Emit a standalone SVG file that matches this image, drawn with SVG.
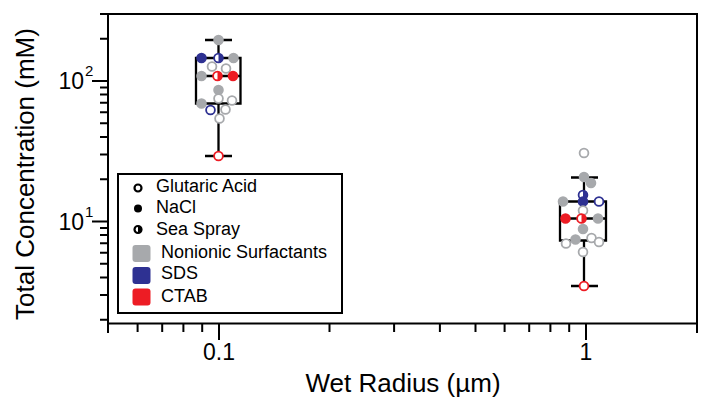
<svg xmlns="http://www.w3.org/2000/svg" xmlns:xlink="http://www.w3.org/1999/xlink" width="708" height="413" viewBox="0 0 708 413">
<style>
text{font-family:"Liberation Sans",Arial,Helvetica,sans-serif;fill:#000}
.ax{stroke:#000;stroke-width:2;fill:none;stroke-linecap:square}
.tk{stroke:#000;stroke-width:2;fill:none}
.bx{stroke:#000;stroke-width:2.3;fill:none}
.lab{font-size:26px}
.tl{font-size:23px}
.sup{font-size:15px}
.lg{font-size:18px}
.m{stroke-width:1.8}
.gf{fill:#a7a9ac;stroke:#a7a9ac}
.go{fill:#fff;stroke:#a7a9ac}
.bf{fill:#2e3192;stroke:#2e3192}
.bo{fill:#fff;stroke:#2e3192}
.rf{fill:#ed1c24;stroke:#ed1c24}
.ro{fill:#fff;stroke:#ed1c24}
.bhf{fill:#2e3192}
.rhf{fill:#ed1c24}
</style>
<defs>
<circle id="mk" r="4.4"/>
<path id="hr" d="M0,-4.4 A4.4,4.4 0 0 1 0,4.4 Z"/>
<path id="lhr" d="M0,-3.7 A3.7,3.7 0 0 1 0,3.7 Z"/>
</defs>

<g id="axes">
<path class="ax" d="M108,14 H697 V332 M108,14 V332 M108,323.5 H697"/>
<g id="yticks" class="tk">
<path d="M100,14 H108 M100,38.7 H108 M92,81 H108 M100,87.5 H108 M100,94.6 H108 M100,102.8 H108 M100,112.2 H108 M100,123.3 H108 M100,136.9 H108 M100,154.5 H108 M100,179.2 H108 M92,221.5 H108 M100,227.9 H108 M100,235.1 H108 M100,243.3 H108 M100,252.7 H108 M100,263.8 H108 M100,277.4 H108 M100,295 H108 M100,319.7 H108"/>
</g>
<g id="xticks" class="tk">
<path d="M137.6,323.5 V332 M162.2,323.5 V332 M183.4,323.5 V332 M202.2,323.5 V332 M219,323.5 V340 M329.5,323.5 V332 M394.1,323.5 V332 M439.9,323.5 V332 M475.5,323.5 V332 M504.6,323.5 V332 M529.2,323.5 V332 M550.4,323.5 V332 M569.2,323.5 V332 M586,323.5 V340"/>
</g>
<text class="tl" x="84" y="89" text-anchor="end">10</text>
<text class="sup" x="85" y="76">2</text>
<text class="tl" x="84" y="229.5" text-anchor="end">10</text>
<text class="sup" x="85" y="216.5">1</text>
<text class="tl" x="219" y="360" text-anchor="middle">0.1</text>
<text class="tl" x="586" y="360" text-anchor="middle">1</text>
<text class="lab" x="403" y="392" text-anchor="middle">Wet Radius (µm)</text>
<text class="lab" transform="translate(34,174) rotate(-90)" text-anchor="middle">Total Concentration (mM)</text>
</g>

<g id="connectors">
<path class="bx" d="M205,40 H232 M218.5,40 V58 M196,58 H240.5 V103.5 H196 Z M196,76 H240.5 M218.5,103.5 V156 M205,156 H232"/>
<path class="bx" d="M571,177.5 H598 M584,177.5 V201.5 M560,201.5 H606 V240.5 H560 Z M560,218.5 H606 M584,240.5 V286 M571,286 H598"/>
</g>

<g id="node-box-0.1um" class="m">
<use href="#mk" class="gf" x="218.5" y="40"/>
<use href="#mk" class="bf" x="201.5" y="58"/>
<use href="#mk" class="bo" x="218.5" y="58"/><use href="#hr" class="bhf" x="218.5" y="58"/>
<use href="#mk" class="gf" x="233.5" y="58"/>
<use href="#mk" class="go" x="212" y="66.5"/>
<use href="#mk" class="go" x="226" y="68.5"/>
<use href="#mk" class="gf" x="201.5" y="76"/>
<use href="#mk" class="ro" x="217.5" y="76"/><use href="#hr" class="rhf" x="217.5" y="76"/>
<use href="#mk" class="rf" x="233" y="76"/>
<use href="#mk" class="gf" x="218.5" y="90"/>
<use href="#mk" class="go" x="218.5" y="98.5"/>
<use href="#mk" class="go" x="232" y="100.5"/>
<use href="#mk" class="gf" x="201.5" y="103.5"/>
<use href="#mk" class="bo" x="210.5" y="110"/>
<use href="#mk" class="go" x="225.5" y="109.5"/>
<use href="#mk" class="go" x="219.5" y="118.5"/>
<use href="#mk" class="ro" x="218.5" y="156"/>
</g>

<g id="node-box-1um" class="m">
<use href="#mk" class="go" x="584" y="153"/>
<use href="#mk" class="gf" x="584" y="177"/>
<use href="#mk" class="gf" x="591" y="183"/>
<use href="#mk" class="bo" x="583" y="195"/><use href="#hr" class="bhf" x="583" y="195"/>
<use href="#mk" class="gf" x="563" y="201.5"/>
<use href="#mk" class="bf" x="583" y="201.5"/>
<use href="#mk" class="bo" x="599" y="201.5"/>
<use href="#mk" class="go" x="583" y="210.5"/>
<use href="#mk" class="rf" x="565.5" y="218.5"/>
<use href="#mk" class="ro" x="581.5" y="218.5"/><use href="#hr" class="rhf" x="581.5" y="218.5"/>
<use href="#mk" class="gf" x="598" y="218.5"/>
<use href="#mk" class="gf" x="583" y="229"/>
<use href="#mk" class="gf" x="575.5" y="239.5"/>
<use href="#mk" class="go" x="566" y="243.5"/>
<use href="#mk" class="go" x="591.5" y="238"/>
<use href="#mk" class="go" x="599" y="242"/>
<use href="#mk" class="go" x="583" y="252"/>
<use href="#mk" class="ro" x="584" y="286"/>
</g>

<g id="legend">
<rect x="118" y="174" width="224" height="139" fill="#fff" stroke="#000" stroke-width="2"/>
<circle cx="138" cy="188" r="3.5" fill="#fff" stroke="#000" stroke-width="2.2"/>
<circle cx="138" cy="208.5" r="4" fill="#000"/>
<circle cx="138" cy="229.5" r="3.5" fill="#fff" stroke="#000" stroke-width="2.2"/>
<use href="#lhr" x="138" y="229.5" fill="#000"/>
<rect x="132.5" y="245" width="18" height="17" rx="3" fill="#a7a9ac"/>
<rect x="132.5" y="267" width="18" height="17" rx="3" fill="#2e3192"/>
<rect x="132.5" y="288.5" width="18" height="17" rx="3" fill="#ed1c24"/>
<text class="lg" x="156" y="192">Glutaric Acid</text>
<text class="lg" x="156" y="213">NaCl</text>
<text class="lg" x="156" y="234.5">Sea Spray</text>
<text class="lg" x="161" y="258">Nonionic Surfactants</text>
<text class="lg" x="161" y="279">SDS</text>
<text class="lg" x="161" y="301.5">CTAB</text>
</g>
</svg>
